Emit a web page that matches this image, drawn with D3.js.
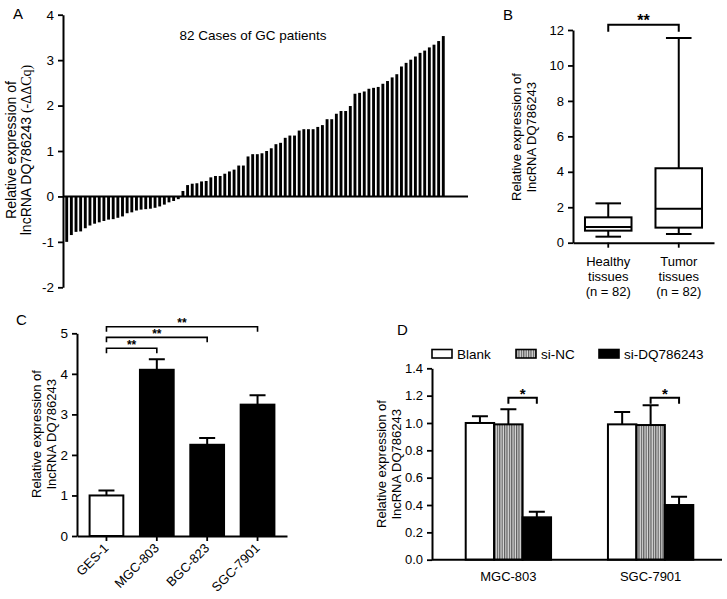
<!DOCTYPE html>
<html><head><meta charset="utf-8">
<script src="https://cdn.jsdelivr.net/npm/d3@7"></script>
<style>
body{margin:0;background:#fff;}
svg text{font-family:"Liberation Sans",Arial,sans-serif;fill:#000;}
</style></head><body>
<svg id="c" width="727" height="599"></svg>
<script>
// ---------- DATA ----------
// Panel A: 82 GC cases, -ΔΔCq sorted
const aValues = [-1.00,-0.85,-0.78,-0.77,-0.70,-0.64,-0.60,-0.57,-0.54,-0.51,-0.50,-0.47,-0.44,-0.37,-0.35,-0.31,-0.29,-0.28,-0.27,-0.25,-0.22,-0.18,-0.13,-0.10,-0.06,
 0.12,0.25,0.28,0.29,0.33,0.34,0.42,0.45,0.45,0.50,0.55,0.59,0.68,0.68,
 0.88,0.93,0.93,0.95,1.00,1.06,1.15,1.18,1.29,1.34,1.34,1.45,1.48,1.48,1.48,1.53,1.57,1.70,1.70,1.82,1.88,1.88,1.99,
 2.26,2.28,2.31,2.37,2.39,2.41,2.48,2.54,2.62,2.69,2.86,2.94,3.01,3.08,3.16,3.21,3.28,3.34,3.42,3.53];
const aCases = aValues.map((v,i)=>i+1);
const aTicks = [-2,-1,0,1,2,3,4];
const aTitle = "82 Cases of GC patients";

// Panel B: box plot stats
const bCategories = ["Healthy","Tumor"];
const bLabels = [["Healthy","tissues","(n = 82)"],["Tumor","tissues","(n = 82)"]];
const bMin = [0.34, 0.49];
const bQ1 = [0.68, 0.85];
const bMedian = [0.88, 1.91];
const bQ3 = [1.43, 4.20];
const bMax = [2.22, 11.55];
const bTicks = [0,2,4,6,8,10,12];
const bSigLevel = 12.29;
const bSigLabel = "**";

// Panel C
const cCategories = ["GES-1","MGC-803","BGC-823","SGC-7901"];
const cMeans = [1.00, 4.10, 2.25, 3.24];
const cErrors = [0.12, 0.26, 0.17, 0.23];
const cFills = ["#fff","#000","#000","#000"];
const cTicks = [0,1,2,3,4,5];
const cCompFrom = [0,0,0];
const cCompTo = [1,2,3];
const cCompLevel = [4.63, 4.90, 5.16];
const cCompLabel = ["**","**","**"];

// Panel D
const dGroups = ["MGC-803","SGC-7901"];
const dSeries = ["Blank","si-NC","si-DQ786243"];
const dBlank = [1.00, 0.99];
const dSiNC = [0.99, 0.985];
const dSiDQ = [0.31, 0.40];
const dBlankErr = [0.05, 0.09];
const dSiNCErr = [0.11, 0.145];
const dSiDQErr = [0.04, 0.06];
const dTicks = [0,0.2,0.4,0.6,0.8,1.0,1.2,1.4];
const dSigLevel = [1.185, 1.185];
const dSigLabel = ["*","*"];

// ---------- DRAW ----------
const svg = d3.select("#c");
const defs = svg.append("defs");
const pat = defs.append("pattern").attr("id","vstripe").attr("width",2.4).attr("height",4).attr("patternUnits","userSpaceOnUse");
pat.append("rect").attr("width",2.4).attr("height",4).attr("fill","#dcdcdc");
pat.append("rect").attr("width",1.2).attr("height",4).attr("fill","#5a5a5a");

const intFmt = d => d3.format("d")(d).replace("\u2212","-");
function styleAxis(g, fs){
  g.attr("font-size",null).attr("font-family",null);
  g.select(".domain").attr("stroke","#000").attr("stroke-width",2);
  g.selectAll(".tick line").attr("stroke","#000").attr("stroke-width",1.8);
  g.selectAll(".tick text").attr("font-size",fs).attr("fill","#000");
}
function yTitle(x1, x2, cy, l1, l2, extra, fs){
  fs = fs || 13;
  svg.append("text").attr("transform",`translate(${x1},${cy}) rotate(-90)`).attr("text-anchor","middle").attr("font-size",fs).text(l1);
  const t = svg.append("text").attr("transform",`translate(${x2},${cy}) rotate(-90)`).attr("text-anchor","middle").attr("font-size",fs);
  t.append("tspan").text(l2);
  if(extra) t.append("tspan").attr("font-family",'"Liberation Serif","DejaVu Serif",serif').text(extra);
}
function panelLabel(x,y,t){ svg.append("text").attr("x",x).attr("y",y).attr("font-size",15).text(t); }

// ===== Panel A =====
const yA = d3.scaleLinear().domain([-2,4]).range([287.3,14.7]);
const xA = d3.scaleBand().domain(aCases).range([64.8,445.2]).paddingInner(0.38).paddingOuter(0.1);
svg.append("g").selectAll("rect").data(aValues).join("rect")
  .attr("x",(d,i)=>xA(aCases[i])).attr("width",xA.bandwidth())
  .attr("y",d=>yA(Math.max(0,d))).attr("height",d=>Math.abs(yA(d)-yA(0)))
  .attr("fill","#000");
svg.append("line").attr("x1",63).attr("x2",468).attr("y1",yA(0)).attr("y2",yA(0)).attr("stroke","#000").attr("stroke-width",2);
const gA = svg.append("g").attr("transform","translate(63,0)").call(d3.axisLeft(yA).tickValues(aTicks).tickSize(5).tickPadding(4).tickSizeOuter(0).tickFormat(intFmt));
styleAxis(gA,13.5);
svg.append("text").attr("x",253).attr("y",40).attr("text-anchor","middle").attr("font-size",13.5).text(aTitle);
yTitle(15.5,30.5,150,"Relative expression of","lncRNA DQ786243 ","(-ΔΔCq)",14);
panelLabel(13,19,"A");

// ===== Panel B =====
const yB = d3.scaleLinear().domain([0,12]).range([242.7,30]);
const xB = d3.scaleBand().domain(bCategories).range([573,714]).paddingInner(0.34).paddingOuter(0.17);
const gBy = svg.append("g").attr("transform","translate(573,0)").call(d3.axisLeft(yB).tickValues(bTicks).tickSize(5).tickPadding(4).tickSizeOuter(0).tickFormat(intFmt));
styleAxis(gBy,13);
const gBx = svg.append("g").attr("transform",`translate(0,${yB(0)})`).call(d3.axisBottom(xB).tickSize(5).tickSizeOuter(0).tickFormat(""));
styleAxis(gBx,13);
const bw = xB.bandwidth();
bCategories.forEach((c,i)=>{
  const x0 = xB(c), cx = x0+bw/2, capW = bw*0.55;
  const g = svg.append("g").attr("stroke","#000").attr("stroke-width",2).attr("fill","none");
  g.append("line").attr("x1",cx).attr("x2",cx).attr("y1",yB(bQ3[i])).attr("y2",yB(bMax[i]));
  g.append("line").attr("x1",cx).attr("x2",cx).attr("y1",yB(bQ1[i])).attr("y2",yB(bMin[i]));
  g.append("line").attr("x1",cx-capW/2).attr("x2",cx+capW/2).attr("y1",yB(bMax[i])).attr("y2",yB(bMax[i]));
  g.append("line").attr("x1",cx-capW/2).attr("x2",cx+capW/2).attr("y1",yB(bMin[i])).attr("y2",yB(bMin[i]));
  g.append("rect").attr("x",x0).attr("width",bw).attr("y",yB(bQ3[i])).attr("height",yB(bQ1[i])-yB(bQ3[i])).attr("fill","#fff");
  g.append("line").attr("x1",x0).attr("x2",x0+bw).attr("y1",yB(bMedian[i])).attr("y2",yB(bMedian[i]));
  bLabels[i].forEach((t,k)=>{
    svg.append("text").attr("x",cx).attr("y",266+k*15).attr("text-anchor","middle").attr("font-size",13).text(t);
  });
});
{
  const xa = xB(bCategories[0])+bw/2, xb = xB(bCategories[1])+bw/2, yl = yB(bSigLevel);
  svg.append("path").attr("d",`M${xa},${yl+7}V${yl}H${xb}V${yl+7}`).attr("fill","none").attr("stroke","#000").attr("stroke-width",2);
  svg.append("text").attr("x",(xa+xb)/2).attr("y",yl+1.5).attr("text-anchor","middle").attr("font-size",16).attr("font-weight","bold").text(bSigLabel);
}
yTitle(521,536,137,"Relative expression of","lncRNA DQ786243");
panelLabel(503,20,"B");

// ===== Panel C =====
const yC = d3.scaleLinear().domain([0,5]).range([536,333.3]);
const xC = d3.scaleBand().domain(cCategories).range([77,287]).paddingInner(0.33).paddingOuter(0.25);
const cw = xC.bandwidth();
svg.append("g").selectAll("rect").data(cMeans).join("rect")
  .attr("x",(d,i)=>xC(cCategories[i])).attr("width",cw)
  .attr("y",d=>yC(d)).attr("height",d=>yC(0)-yC(d))
  .attr("fill",(d,i)=>cFills[i]).attr("stroke","#000").attr("stroke-width",2);
cMeans.forEach((m,i)=>{
  const cx = xC(cCategories[i])+cw/2, yt = yC(m+cErrors[i]);
  svg.append("path").attr("d",`M${cx},${yC(m)}V${yt}M${cx-8},${yt}H${cx+8}`).attr("stroke","#000").attr("stroke-width",2).attr("fill","none");
});
const gCy = svg.append("g").attr("transform","translate(77,0)").call(d3.axisLeft(yC).tickValues(cTicks).tickSize(5).tickPadding(4).tickSizeOuter(0).tickFormat(intFmt));
styleAxis(gCy,13.5);
const gCx = svg.append("g").attr("transform",`translate(0,${yC(0)})`).call(d3.axisBottom(xC).tickSize(5).tickSizeOuter(0).tickPadding(6));
styleAxis(gCx,13);
gCx.selectAll(".tick text").attr("text-anchor","end").attr("dy",null).attr("y",null)
  .attr("transform","translate(3,13) rotate(-45)");
cCompTo.forEach((j,k)=>{
  const xa = xC(cCategories[cCompFrom[k]])+cw/2, xb = xC(cCategories[j])+cw/2, yl = yC(cCompLevel[k]);
  svg.append("path").attr("d",`M${xa},${yl+5}V${yl}H${xb}V${yl+5}`).attr("fill","none").attr("stroke","#000").attr("stroke-width",1.6);
  svg.append("text").attr("x",(xa+xb)/2).attr("y",yl+0.5).attr("text-anchor","middle").attr("font-size",12).attr("font-weight","bold").text(cCompLabel[k]);
});
yTitle(41,56,434,"Relative expression of","lncRNA DQ786243");
panelLabel(16,325,"C");

// ===== Panel D =====
const yD = d3.scaleLinear().domain([0,1.4]).range([559.7,368.3]);
const xD = d3.scaleBand().domain(dGroups).range([432,727]).paddingInner(0.4).paddingOuter(0.237);
const xDs = d3.scaleBand().domain(dSeries).range([0,xD.bandwidth()]);
const dVals = [dBlank,dSiNC,dSiDQ], dErrs = [dBlankErr,dSiNCErr,dSiDQErr];
const dFill = ["#fff","url(#vstripe)","#000"];
dGroups.forEach((g,gi)=>{
  dSeries.forEach((s,si)=>{
    const x0 = xD(g)+xDs(s), v = dVals[si][gi], e = dErrs[si][gi], cx = x0+xDs.bandwidth()/2;
    svg.append("path").attr("d",`M${cx},${yD(v)}V${yD(v+e)}M${cx-8},${yD(v+e)}H${cx+8}`).attr("stroke","#000").attr("stroke-width",2).attr("fill","none");
    svg.append("rect").attr("x",x0).attr("width",xDs.bandwidth()).attr("y",yD(v)).attr("height",yD(0)-yD(v))
      .attr("fill",dFill[si]).attr("stroke","#000").attr("stroke-width",2);
  });
  const xa = xD(g)+xDs("si-NC")+xDs.bandwidth()/2, xb = xD(g)+xDs("si-DQ786243")+xDs.bandwidth()/2, yl = yD(dSigLevel[gi]);
  svg.append("path").attr("d",`M${xa},${yl+6}V${yl}H${xb}V${yl+6}`).attr("fill","none").attr("stroke","#000").attr("stroke-width",2);
  svg.append("text").attr("x",(xa+xb)/2).attr("y",yl+1).attr("text-anchor","middle").attr("font-size",15).attr("font-weight","bold").text(dSigLabel[gi]);
  svg.append("text").attr("x",xD(g)+xD.bandwidth()/2).attr("y",581).attr("text-anchor","middle").attr("font-size",13).text(g);
});
svg.append("line").attr("x1",432).attr("x2",722).attr("y1",yD(0)).attr("y2",yD(0)).attr("stroke","#000").attr("stroke-width",2);
const gDy = svg.append("g").attr("transform","translate(432,0)").call(d3.axisLeft(yD).tickValues(dTicks).tickSize(5).tickPadding(4).tickSizeOuter(0).tickFormat(d3.format(".1f")));
styleAxis(gDy,13);
// legend
const legX = [432, 516, 599];
dSeries.forEach((s,si)=>{
  svg.append("rect").attr("x",legX[si]).attr("y",349.5).attr("width",20).attr("height",8.5).attr("fill",dFill[si]).attr("stroke","#000").attr("stroke-width",1.6);
  svg.append("text").attr("x",legX[si]+25).attr("y",358.5).attr("font-size",13.5).text(s);
});
yTitle(386,401,464,"Relative expression of","lncRNA DQ786243");
panelLabel(397,335,"D");
</script></body></html>
